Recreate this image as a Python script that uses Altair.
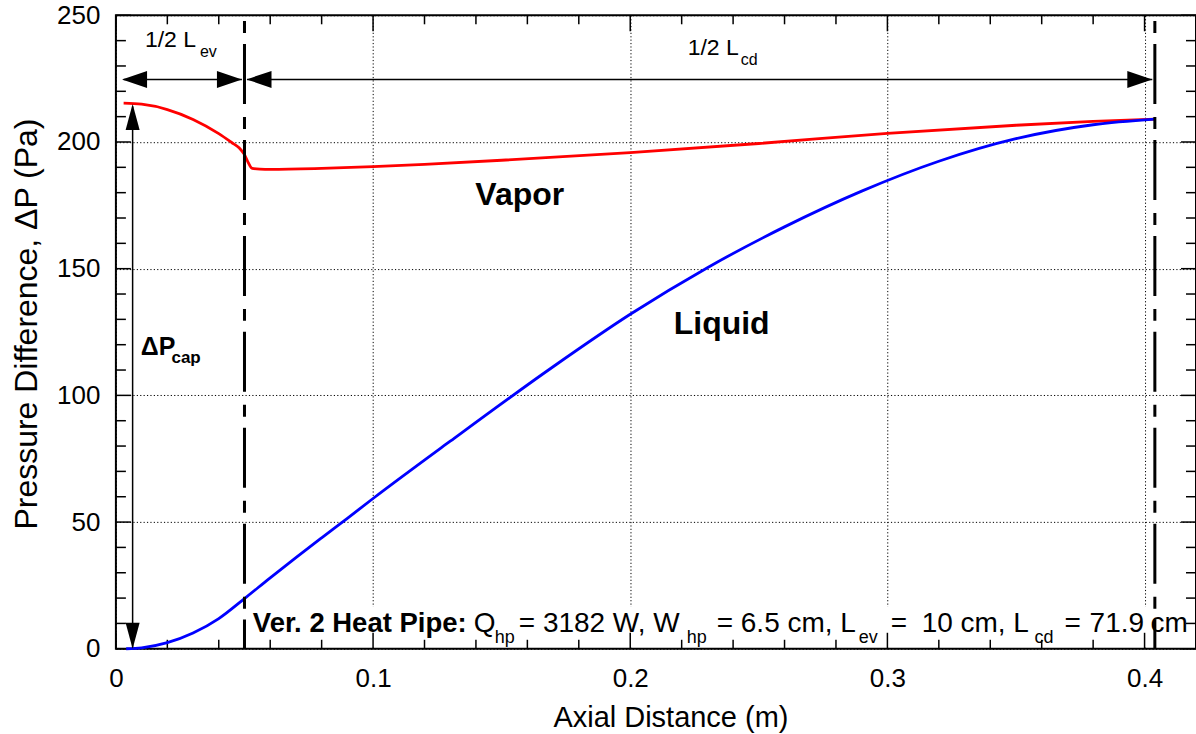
import altair as alt
import pandas as pd

# ---------------- data ----------------
vapor_x = [0.003, 0.01, 0.02, 0.03, 0.04, 0.045, 0.048, 0.05, 0.0515, 0.053, 0.056, 0.06,
           0.08, 0.10, 0.12, 0.15, 0.20, 0.25, 0.30, 0.35, 0.38, 0.404]
vapor_y = [215.3, 214.9, 212.8, 208.9, 203.3, 199.8, 197.6, 195.0, 191.8, 189.6, 189.3, 189.2,
           189.6, 190.3, 191.2, 192.8, 195.8, 199.4, 203.4, 206.6, 208.1, 209.0]

liquid_x = [0.004, 0.01, 0.02, 0.03, 0.04, 0.05, 0.06, 0.07, 0.08, 0.09, 0.10, 0.13, 0.17,
            0.20, 0.23, 0.26, 0.29, 0.32, 0.35, 0.38, 0.404]
liquid_y = [0.0, 0.35, 2.4, 6.2, 11.9, 19.8, 28.0, 36.0, 43.8, 51.5, 59.3, 81.9, 111.3,
            132.0, 150.4, 166.5, 180.6, 192.4, 201.3, 206.8, 209.0]

x_major = [0, 0.1, 0.2, 0.3, 0.4]
y_major = [0, 50, 100, 150, 200, 250]
x_minor = [0.02, 0.04, 0.06, 0.08, 0.12, 0.14, 0.16, 0.18, 0.22, 0.24, 0.26, 0.28,
           0.32, 0.34, 0.36, 0.38, 0.42]
y_minor = [10, 20, 30, 40, 60, 70, 80, 90, 110, 120, 130, 140, 160, 170, 180, 190,
           210, 220, 230, 240]

# section boundaries (m) and arrow level (Pa)
x_evap_end = 0.05
x_cond_end = 0.404
arrow_level = 224.7
dp_cap_x = 0.0065
dp_cap_top = 215.0

# ---------------- layout ----------------
W, H = 1081, 634
FONT = "Liberation Sans"
xs = alt.Scale(domain=[0, 0.42], nice=False, zero=False)
ys = alt.Scale(domain=[0, 250], nice=False, zero=False)
AX = alt.Axis(values=x_major, format="~g", title="Axial Distance (m)", labelFlush=False,
              grid=True, titleX=555, titleY=78, titleBaseline="alphabetic", titleFontSize=29)
AY = alt.Axis(values=y_major, format="d", title="Pressure Difference, \u0394P (Pa)", labelFlush=False,
              grid=True, titleX=-79, titleY=308.5, titleBaseline="alphabetic", titleFontSize=32)


def X(field="x"):
    return alt.X(f"{field}:Q", scale=xs, axis=AX)


def Y(field="y"):
    return alt.Y(f"{field}:Q", scale=ys, axis=AY)


vapor_df = pd.DataFrame({"x": vapor_x, "y": vapor_y})
liquid_df = pd.DataFrame({"x": liquid_x, "y": liquid_y})

vapor = alt.Chart(vapor_df).mark_line(color="#ff0000", strokeWidth=2.8, interpolate="monotone").encode(
    x=X(), y=Y())
liquid = alt.Chart(liquid_df).mark_line(color="#0000ff", strokeWidth=2.8, interpolate="monotone").encode(
    x=X(), y=Y())

# white box behind the bottom caption
box = alt.Chart(pd.DataFrame({"x": [0.0525], "x2": [0.4135], "y": [0.8], "y2": [16.5]})).mark_rect(
    color="white").encode(x=X(), x2="x2:Q", y=Y(), y2="y2:Q")

# inward ticks on all four sides
xmaj = pd.DataFrame({"x": x_major})
xmin = pd.DataFrame({"x": x_minor})
ymaj = pd.DataFrame({"y": y_major})
ymin = pd.DataFrame({"y": y_minor})
tick = dict(color="black", strokeWidth=1.5)
ticks = [
    alt.Chart(xmaj).mark_rule(**tick).encode(x=X(), y=alt.value(H), y2=alt.value(H - 16)),
    alt.Chart(xmin).mark_rule(**tick).encode(x=X(), y=alt.value(H), y2=alt.value(H - 9)),
    alt.Chart(xmaj).mark_rule(**tick).encode(x=X(), y=alt.value(0), y2=alt.value(16)),
    alt.Chart(xmin).mark_rule(**tick).encode(x=X(), y=alt.value(0), y2=alt.value(9)),
    alt.Chart(ymaj).mark_rule(**tick).encode(y=Y(), x=alt.value(0), x2=alt.value(15)),
    alt.Chart(ymin).mark_rule(**tick).encode(y=Y(), x=alt.value(0), x2=alt.value(10)),
    alt.Chart(ymaj).mark_rule(**tick).encode(y=Y(), x=alt.value(W), x2=alt.value(W - 15)),
    alt.Chart(ymin).mark_rule(**tick).encode(y=Y(), x=alt.value(W), x2=alt.value(W - 10)),
]

# dash-dot section boundaries
bounds = alt.Chart(pd.DataFrame({"x": [x_evap_end, x_cond_end], "y": [247.7, 247.7], "y2": [0, 0]})).mark_rule(
    color="black", strokeWidth=3, strokeDash=[12, 11, 60, 13]).encode(x=X(), y=Y(), y2="y2:Q")

# arrow shafts
shafts_h = alt.Chart(pd.DataFrame({"x": [0.003, 0.051], "x2": [0.049, 0.403],
                                   "y": [arrow_level, arrow_level]})).mark_rule(
    color="black", strokeWidth=1.5).encode(x=X(), x2="x2:Q", y=Y())
shaft_v = alt.Chart(pd.DataFrame({"x": [dp_cap_x], "y": [0.5], "y2": [dp_cap_top - 1]})).mark_rule(
    color="black", strokeWidth=1.5).encode(x=X(), y=Y(), y2="y2:Q")

# arrow heads (tip at the point)
head_h_df = pd.DataFrame({"x": [0.0024, 0.049, 0.0508, 0.403],
                          "y": [arrow_level] * 4, "ang": [180, 0, 180, 0]})
head_v_df = pd.DataFrame({"x": [dp_cap_x, dp_cap_x], "y": [dp_cap_top, 0.0], "ang": [270, 90]})
heads_h = alt.Chart(head_h_df).mark_point(shape="M 0 0 L -2 -0.68 L -2 0.68 Z", filled=True,
                                          color="black", opacity=1, size=625, strokeWidth=0).encode(
    x=X(), y=Y(), angle=alt.Angle("ang:Q", scale=None))
heads_v = alt.Chart(head_v_df).mark_point(shape="M 0 0 L -2 -0.54 L -2 0.54 Z", filled=True,
                                          color="black", opacity=1, size=676, strokeWidth=0).encode(
    x=X(), y=Y(), angle=alt.Angle("ang:Q", scale=None))


def px2x(p):
    # convert a left-edge pixel position of the reference into axial distance
    return (p - 116) / 2572.5


# text annotations (regular weight, left aligned)
reg_items = [
    ("1/2 L", 145, 237.6, 23), ("ev", 200, 233.4, 16),
    ("1/2 L", 688, 234.3, 23), ("cd", 741, 230.4, 16),
    ("Q", 474, 6.8, 28), ("hp", 495, 2.4, 18),
    ("= 3182 W, W", 519, 6.8, 28), ("hp", 687, 2.4, 18),
    ("= 6.5 cm, L", 717, 6.8, 28), ("ev", 859, 2.4, 18),
    ("=", 891, 6.8, 28), ("10 cm, L", 922, 6.8, 28),
    ("cd", 1035, 2.4, 18),
    ("=", 1065, 6.8, 28), ("71.9", 1090, 6.8, 28), ("cm", 1151, 6.8, 28),
]
reg_df = pd.DataFrame({"t": [r[0] for r in reg_items], "x": [px2x(r[1]) for r in reg_items],
                       "y": [r[2] for r in reg_items], "fs": [r[3] for r in reg_items]})
bold_left = pd.DataFrame({
    "t": ["\u0394P", "cap", "Ver. 2 Heat Pipe:"],
    "x": [0.0097, 0.0216, px2x(253)],
    "y": [116.0, 112.8, 6.8],
    "fs": [25, 17, 27.5],
})
bold_center = pd.DataFrame({
    "t": ["Vapor", "Liquid"],
    "x": [px2x(520), px2x(722)],
    "y": [175.0, 124.3],
    "fs": [32, 32],
})
reg_text = alt.Chart(reg_df).mark_text(font=FONT, align="left", baseline="alphabetic", color="black").encode(
    x=X(), y=Y(), text="t:N", size=alt.Size("fs:Q", scale=None, legend=None))
bold_text = alt.Chart(bold_left).mark_text(font=FONT, fontWeight="bold", align="left", baseline="alphabetic",
                                           color="black").encode(
    x=X(), y=Y(), text="t:N", size=alt.Size("fs:Q", scale=None, legend=None))
bold_text2 = alt.Chart(bold_center).mark_text(font=FONT, fontWeight="bold", align="center",
                                              baseline="alphabetic", color="black").encode(
    x=X(), y=Y(), text="t:N", size=alt.Size("fs:Q", scale=None, legend=None))

chart = alt.layer(
    vapor, box, *ticks, liquid, bounds, shafts_h, shaft_v, heads_h, heads_v, reg_text, bold_text, bold_text2
).properties(
    width=W, height=H,
    padding={"left": 116, "top": 15, "right": 0, "bottom": 85},
    autosize=alt.AutoSizeParams(type="none"),
    background="white",
).configure_view(
    stroke="black", strokeWidth=2
).configure_axis(
    labelFont=FONT, labelFontSize=26, labelColor="black",
    titleFont=FONT, titleFontWeight="normal", titleColor="black",
    ticks=False, tickSize=0, domain=False,
    gridColor="black", gridDash=[1.2, 2.2], gridWidth=1, gridOpacity=1,
).configure_axisX(labelPadding=17).configure_axisY(labelPadding=16)

chart.save("out.html", embed_options={"renderer": "svg", "actions": False})
